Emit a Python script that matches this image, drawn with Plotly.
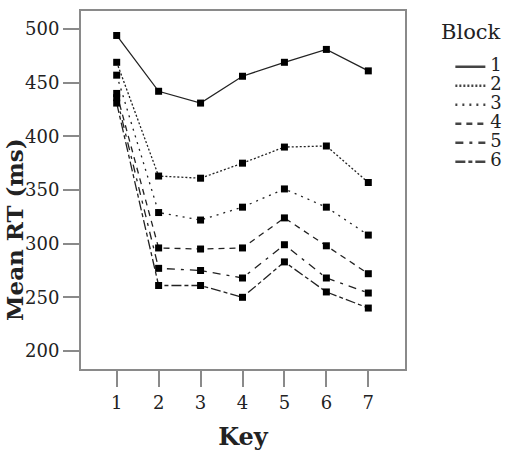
import plotly.graph_objects as go

keys = [1, 2, 3, 4, 5, 6, 7]
blocks = ["1", "2", "3", "4", "5", "6"]
block1 = [494, 442, 431, 456, 469, 481, 461]
block2 = [469, 363, 361, 375, 390, 391, 357]
block3 = [457, 329, 322, 334, 351, 334, 308]
block4 = [440, 296, 295, 296, 324, 298, 272]
block5 = [436, 277, 275, 268, 299, 268, 254]
block6 = [431, 261, 261, 250, 283, 255, 240]
series = [block1, block2, block3, block4, block5, block6]
dashes = ["solid", "2px,2px", "2px,5px", "6px,5px", "8px,6px,3px,6px", "10px,3px,4px,3px"]

FONT = "DejaVu Serif"
LINE = "#222222"
AX = "#8a8a8a"

fig = go.Figure()
for name, vals, d in zip(blocks, series, dashes):
    fig.add_trace(go.Scatter(
        x=keys, y=vals, mode="lines+markers", showlegend=False,
        line=dict(color=LINE, width=1.3, dash=d),
        marker=dict(symbol="square", size=7, color="black"),
    ))
for name, d in zip(blocks, dashes):
    fig.add_trace(go.Scatter(
        x=[None], y=[None], mode="lines",
        name='<span style="font-size:18px">' + name + "</span>",
        line=dict(color="#444444", width=2.5, dash=d),
    ))

fig.update_layout(
    width=512, height=454,
    margin=dict(l=81, r=107, t=11, b=85, autoexpand=False),
    paper_bgcolor="white", plot_bgcolor="white",
    font=dict(family=FONT, color="#222222", size=18),
    xaxis=dict(
        range=[0.149, 7.875], tickvals=keys, ticktext=[str(k) for k in keys],
        showgrid=False, zeroline=False, showline=True, mirror=True,
        linecolor=AX, linewidth=2, ticks="outside", ticklen=16, tickwidth=2,
        tickcolor=AX, tickfont=dict(family=FONT, size=18), automargin=False,
        title=dict(text="<b>Key</b>", font=dict(family=FONT, size=24), standoff=17),
    ),
    yaxis=dict(
        range=[183.2, 516.8], tickvals=[200, 250, 300, 350, 400, 450, 500],
        showgrid=False, zeroline=False, showline=True, mirror=True,
        linecolor=AX, linewidth=2, ticks="outside", ticklen=16, tickwidth=2,
        tickcolor=AX, tickfont=dict(family=FONT, size=18), automargin=False,
    ),
    legend=dict(
        x=1.14, y=0.885, xanchor="left", yanchor="top",
        font=dict(family=FONT, size=12), tracegroupgap=0,
        bgcolor="rgba(0,0,0,0)", itemwidth=30,
    ),
    annotations=[
        dict(
            text="<b>Mean RT (ms)</b>", textangle=-90, xref="paper", yref="paper",
            x=-0.205, y=0.39, showarrow=False, font=dict(family=FONT, size=23),
            xanchor="center", yanchor="middle",
        ),
        dict(
            text="Block", xref="paper", yref="paper", x=1.105, y=0.941,
            showarrow=False, font=dict(family=FONT, size=21),
            xanchor="left", yanchor="middle",
        ),
    ],
)

fig.write_html("out.html")
